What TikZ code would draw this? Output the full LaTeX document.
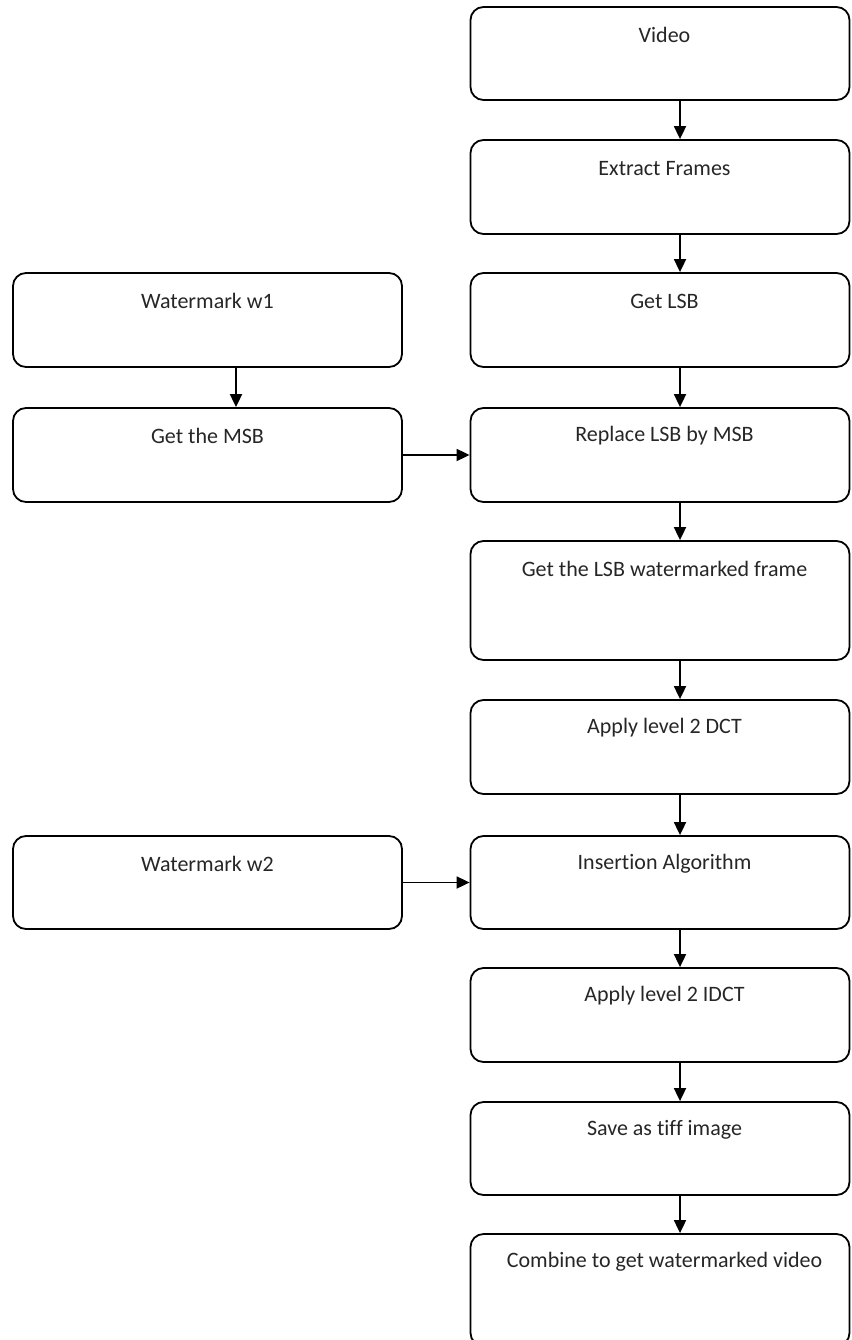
\documentclass[tikz,border=0pt]{standalone}
\usepackage{fontspec}
\setmainfont[Ligatures={NoCommon}]{Carlito}
\usetikzlibrary{arrows.meta}
\begin{document}
\begin{tikzpicture}[x=1pt,y=-1pt,
  box/.style={draw=black, line width=1.8pt, rounded corners=13pt, inner sep=0pt},
  rbox/.style={box, minimum width=379pt},
  lbox/.style={box, minimum width=389pt},
  txt/.style={anchor=center, yshift=-29pt, font=\fontsize{22}{24}\selectfont, text=black!85, inner sep=0pt},
  rlbl/.style={txt, xshift=4.5pt},
  llbl/.style={txt},
  arr/.style={line width=1.8pt, -{Triangle[length=13pt,width=12pt]}}]
\useasboundingbox (0,0) rectangle (851,1340);
% right column
\node[rbox, minimum height=93pt, label={[rlbl]north:Video}] (v) at (660,53.5) {};
\node[rbox, minimum height=94pt, label={[rlbl]north:Extract Frames}] (ef) at (660,187) {};
\node[rbox, minimum height=94pt, label={[rlbl]north:Get LSB}] (gl) at (660,320) {};
\node[rbox, minimum height=94pt, label={[rlbl]north:Replace LSB by MSB}] (rep) at (660,455) {};
\node[rbox, minimum height=119pt, label={[rlbl]north:Get the LSB watermarked frame}] (lw) at (660,600.5) {};
\node[rbox, minimum height=94pt, label={[rlbl]north:Apply level 2 DCT}] (dct) at (660,747) {};
\node[rbox, minimum height=93pt, label={[rlbl]north:Insertion Algorithm}] (ins) at (660,882.5) {};
\node[rbox, minimum height=94pt, label={[rlbl]north:Apply level 2 IDCT}] (idct) at (660,1015) {};
\node[rbox, minimum height=93pt, label={[rlbl]north:Save as tiff image}] (sv) at (660,1148.5) {};
\node[rbox, minimum height=112pt, label={[rlbl]north:Combine to get watermarked video}] (cb) at (660,1290) {};
% left column
\node[lbox, minimum height=94pt, label={[llbl]north:Watermark w1}] (w1) at (207.5,320) {};
\node[lbox, minimum height=94pt, label={[llbl]north:Get the MSB}] (msb) at (207.5,455) {};
\node[lbox, minimum height=93pt, label={[llbl]north:Watermark w2}] (w2) at (207.5,882.5) {};
% arrows
\foreach \a/\b in {v/ef, ef/gl, gl/rep, rep/lw, lw/dct, dct/ins, ins/idct, idct/sv, sv/cb}
  \draw[arr] ([xshift=20pt]\a.south) -- ([xshift=20pt]\b.north);
\draw[arr] ([xshift=28.5pt]w1.south) -- ([xshift=28.5pt]msb.north);
\draw[arr] (msb.east) -- (rep.west);
\draw[arr] (w2.east) -- (ins.west);
\end{tikzpicture}
\end{document}
